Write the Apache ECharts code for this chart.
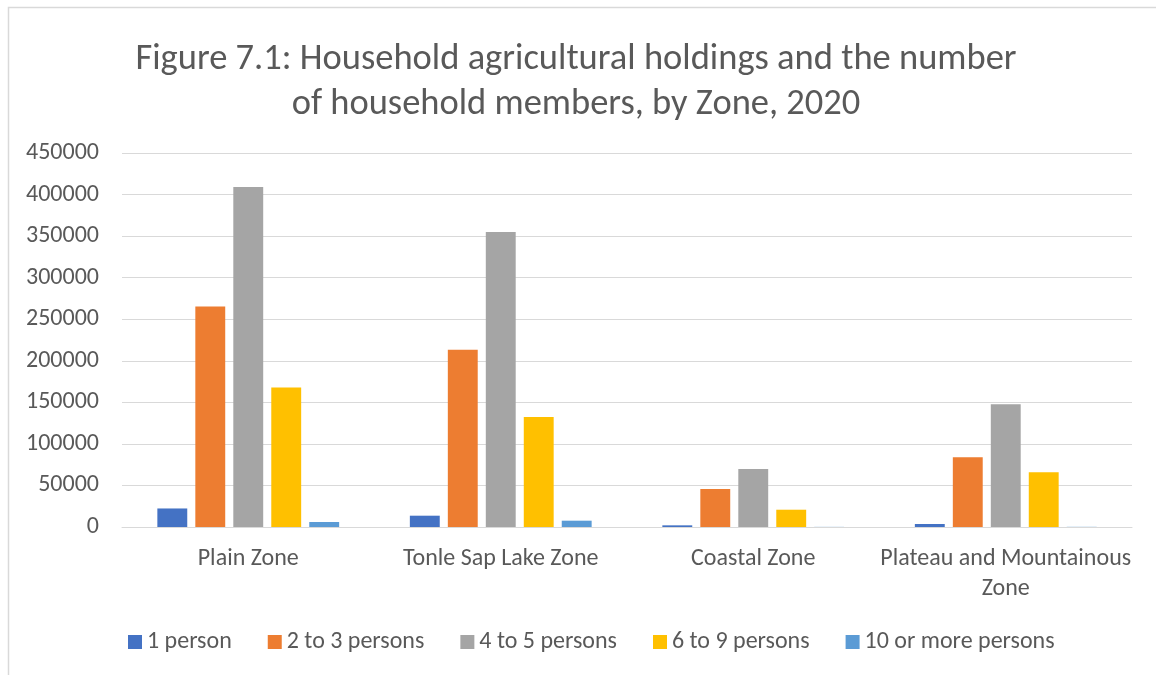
<!DOCTYPE html>
<html>
<head>
<meta charset="utf-8">
<script src="https://cdn.jsdelivr.net/npm/echarts@6/dist/echarts.min.js"></script>
<style>
  html, body { margin: 0; padding: 0; background: #fff; }
  #chart { width: 1156px; height: 675px; }
</style>
</head>
<body>
<div id="chart"></div>
<script>
// Zones (categories) and household-size groups
const zones = ['Plain Zone', 'Tonle Sap Lake Zone', 'Coastal Zone', 'Plateau and Mountainous\nZone'];
const onePerson      = [22300, 13600, 2000, 3600];
const twoToThree     = [265300, 213400, 45600, 84000];
const fourToFive     = [409200, 355000, 69900, 147600];
const sixToNine      = [167900, 132300, 20800, 66000];
const tenOrMore      = [6000, 7600, 150, 200];
const seriesNames = ['1 person', '2 to 3 persons', '4 to 5 persons', '6 to 9 persons', '10 or more persons'];
const seriesColors = ['#4472C4', '#ED7D31', '#A5A5A5', '#FFC000', '#5B9BD5'];
const seriesValues = [onePerson, twoToThree, fourToFive, sixToNine, tenOrMore];

const font = 'Calibri, Carlito, Lato, sans-serif';
const chart = echarts.init(document.getElementById('chart'), null, { renderer: 'canvas' });

chart.setOption({
  animation: false,
  backgroundColor: '#fff',
  graphic: [{
    type: 'rect',
    shape: { x: 8.5, y: 7.5, width: 1200, height: 700 },
    style: { fill: 'none', stroke: '#d9d9d9', lineWidth: 1.5 },
    silent: true
  }],
  title: {
    text: 'Figure 7.1: Household agricultural holdings and the number\nof household members, by Zone, 2020',
    left: 571,
    textAlign: 'center',
    top: 32,
    textStyle: {
      fontFamily: font,
      fontWeight: 'normal',
      fontSize: 36.5,
      lineHeight: 45,
      color: '#595959'
    }
  },
  legend: {
    top: 625,
    left: 123,
    itemWidth: 14,
    itemHeight: 14,
    itemGap: 36,
    icon: 'rect',
    textStyle: { fontFamily: font, fontSize: 24, color: '#595959' },
    data: seriesNames
  },
  grid: { left: 122, right: 24, top: 153, bottom: 148, containLabel: false },
  xAxis: {
    type: 'category',
    data: zones,
    axisLine: { show: true, lineStyle: { color: '#d9d9d9', width: 1 } },
    axisTick: { show: false },
    axisLabel: {
      fontFamily: font, fontSize: 24, color: '#595959', margin: 17, lineHeight: 30,
      interval: 0
    }
  },
  yAxis: {
    type: 'value',
    min: 0, max: 450000, interval: 50000,
    axisLine: { show: false },
    axisTick: { show: false },
    splitLine: { lineStyle: { color: '#d9d9d9', width: 1 } },
    axisLabel: {
      fontFamily: font, fontSize: 24, color: '#595959', margin: 23,
      formatter: v => String(v)
    }
  },
  series: seriesValues.map((vals, i) => ({
    name: seriesNames[i],
    type: 'bar',
    data: vals,
    barGap: '27%',
    barCategoryGap: '28%',
    itemStyle: { color: seriesColors[i] }
  }))
});
</script>
</body>
</html>
